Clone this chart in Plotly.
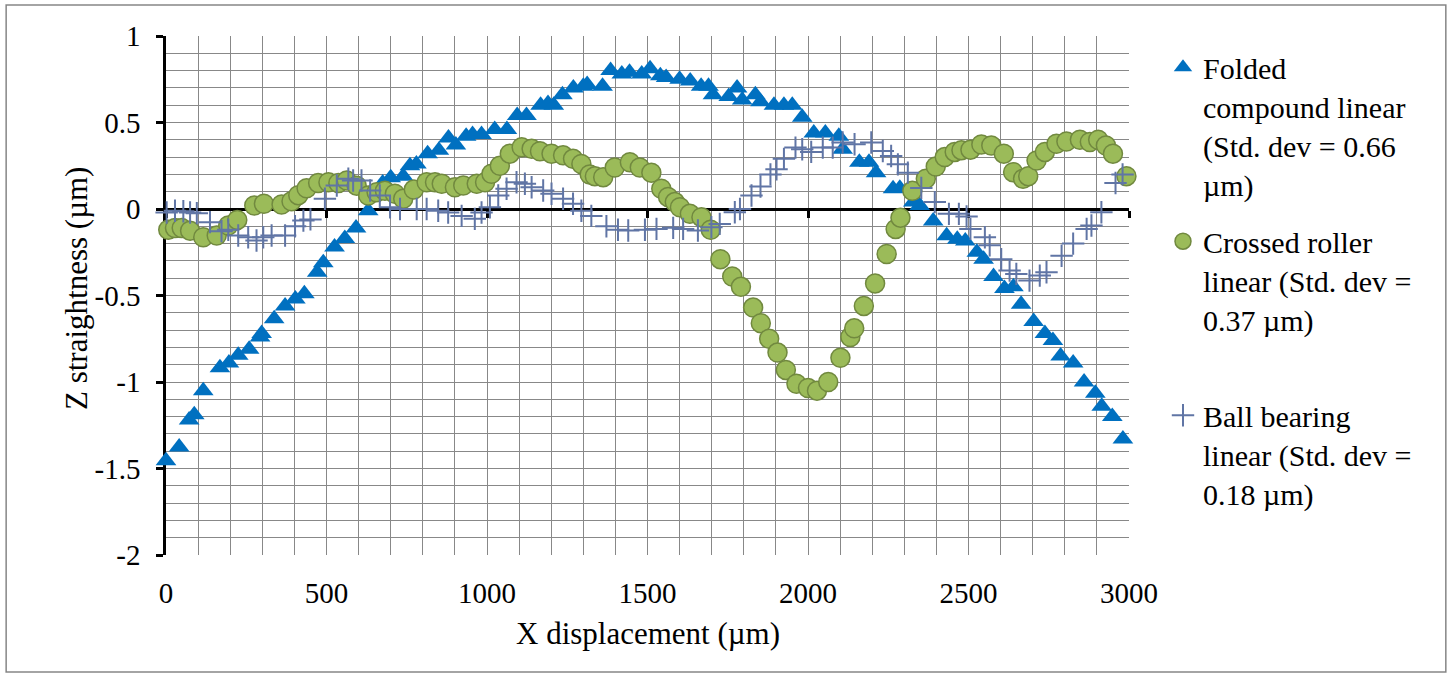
import plotly.graph_objects as go

# ---------------- data ----------------
folded_x = [0, 41, 72, 88, 116, 168, 196, 225, 259, 293, 298, 337, 371, 403, 431, 471, 490, 525, 557, 592,
            630, 675, 700, 739, 760, 780, 815, 850, 880, 903, 935, 955, 983, 1024, 1062, 1094, 1123, 1167, 1190, 1208,
            1235, 1269, 1300, 1312, 1360, 1385, 1420, 1444, 1482, 1508, 1540, 1558, 1600, 1633, 1667, 1690, 1704, 1753,
            1779, 1795, 1836, 1852, 1894, 1925, 1951, 1982, 2018, 2054, 2096, 2108, 2160, 2190, 2212, 2265, 2286, 2328,
            2348, 2390, 2432, 2465, 2490, 2526, 2547, 2578, 2612, 2640, 2664, 2703, 2738, 2763, 2787, 2826, 2860, 2895,
            2915, 2948, 2981]
folded_y = [-1.455, -1.375, -1.22, -1.19, -1.05, -0.917, -0.89, -0.845, -0.81, -0.74, -0.72, -0.635, -0.56, -0.52,
            -0.49, -0.365, -0.31, -0.22, -0.17, -0.11, -0.01, 0.15, 0.18, 0.19, 0.25, 0.26, 0.32, 0.34, 0.41, 0.37,
            0.42, 0.43, 0.43, 0.46, 0.46, 0.54, 0.54, 0.60, 0.61, 0.60, 0.66, 0.70, 0.71, 0.72, 0.71, 0.80, 0.78, 0.79,
            0.78, 0.81, 0.77, 0.76, 0.75, 0.74, 0.71, 0.71, 0.66, 0.65, 0.70, 0.63, 0.66, 0.62, 0.60, 0.60, 0.60, 0.53,
            0.44, 0.44, 0.42, 0.345, 0.27, 0.27, 0.21, 0.117, 0.12, 0.04, 0.02, -0.07, -0.155, -0.175, -0.185, -0.25,
            -0.29, -0.39, -0.46, -0.45, -0.55, -0.65, -0.72, -0.76, -0.85, -0.89, -1.0, -1.065, -1.14, -1.20, -1.33]

crossed_x = [7, 28, 49, 75, 116, 158, 194, 222, 275, 305, 360, 391, 412, 438, 474, 506, 537, 563, 594, 630, 656,
             682, 713, 739, 772, 812, 838, 859, 900, 926, 968, 994, 1014, 1040, 1071, 1108, 1139, 1165, 1201, 1237,
             1268, 1294, 1320, 1336, 1362, 1398, 1445, 1476, 1512, 1543, 1564, 1585, 1601, 1632, 1668, 1697, 1727,
             1764, 1791, 1829, 1853, 1879, 1905, 1931, 1964, 2000, 2028, 2063, 2101, 2132, 2144, 2174, 2209, 2245,
             2273, 2288, 2325, 2367, 2398, 2426, 2457, 2478, 2506, 2540, 2571, 2610, 2639, 2670, 2686, 2712, 2738,
             2774, 2805, 2847, 2878, 2904, 2928, 2950, 2992]
crossed_y = [-0.12, -0.11, -0.11, -0.125, -0.163, -0.153, -0.095, -0.063, 0.02, 0.03, 0.026, 0.045, 0.08, 0.12,
             0.15, 0.155, 0.15, 0.165, 0.135, 0.078, 0.097, 0.105, 0.088, 0.059, 0.112, 0.155, 0.155, 0.146, 0.126,
             0.136, 0.146, 0.155, 0.204, 0.25, 0.32, 0.357, 0.348, 0.334, 0.32, 0.31, 0.29, 0.26, 0.20, 0.19, 0.184,
             0.24, 0.27, 0.24, 0.21, 0.117, 0.07, 0.04, 0.01, -0.028, -0.047, -0.12, -0.29, -0.39, -0.45, -0.57, -0.66,
             -0.75, -0.83, -0.93, -1.01, -1.035, -1.05, -1.0, -0.86, -0.74, -0.69, -0.56, -0.43, -0.26, -0.115, -0.05,
             0.105, 0.175, 0.246, 0.30, 0.33, 0.34, 0.343, 0.373, 0.367, 0.32, 0.213, 0.175, 0.19, 0.28, 0.33, 0.377,
             0.39, 0.40, 0.387, 0.40, 0.367, 0.32, 0.19]

ball_x = [2, 28, 54, 75, 96, 137, 173, 194, 225, 256, 282, 303, 329, 371, 402, 428, 450, 495, 532, 568, 583, 609,
          636, 666, 698, 729, 781, 812, 848, 879, 921, 962, 983, 1009, 1035, 1061, 1092, 1118, 1139, 1175, 1201, 1237,
          1268, 1294, 1325, 1372, 1408, 1440, 1492, 1528, 1580, 1611, 1657, 1699, 1725, 1772, 1788, 1824, 1852, 1883,
          1902, 1925, 1961, 1982, 2010, 2046, 2077, 2108, 2145, 2197, 2233, 2259, 2280, 2311, 2353, 2395, 2439, 2470,
          2494, 2506, 2551, 2566, 2602, 2628, 2649, 2690, 2722, 2743, 2790, 2826, 2868, 2883, 2914, 2958, 2980]
ball_y = [-0.02, -0.01, -0.013, -0.02, -0.024, -0.076, -0.128, -0.12, -0.153, -0.163, -0.182, -0.163, -0.153,
          -0.153, -0.10, -0.067, -0.06, 0.059, 0.136, 0.175, 0.165, 0.165, 0.107, 0.078, 0.01, 0.0, 0.0, 0.0, -0.01,
          -0.02, -0.04, -0.057, -0.02, 0.01, 0.078, 0.117, 0.155, 0.146, 0.126, 0.107, 0.088, 0.059, 0.03, -0.01,
          -0.04, -0.10, -0.12, -0.124, -0.12, -0.115, -0.109, -0.115, -0.124, -0.105, -0.086, -0.019, 0.0, 0.078,
          0.13, 0.20, 0.23, 0.29, 0.355, 0.345, 0.33, 0.355, 0.355, 0.384, 0.374, 0.384, 0.335, 0.306, 0.258, 0.21,
          0.122, 0.04, -0.028, -0.028, -0.043, -0.115, -0.163, -0.21, -0.29, -0.356, -0.375, -0.414, -0.385, -0.366,
          -0.27, -0.2, -0.115, -0.095, -0.019, 0.15, 0.20]

series_names = [
    "Folded<br>compound linear<br>(Std. dev = 0.66<br>µm)",
    "Crossed roller<br>linear (Std. dev =<br>0.37 µm)<br> ",
    "Ball bearing<br>linear (Std. dev =<br>0.18 µm)",
]
y_tick_vals = [1, 0.5, 0, -0.5, -1, -1.5, -2]
y_tick_text = ["1", "0.5", "0", "-0.5", "-1", "-1.5", "-2"]
x_tick_vals = [0, 500, 1000, 1500, 2000, 2500, 3000]
x_tick_text = ["0", "500", "1000", "1500", "2000", "2500", "3000"]
x_title = "X displacement (µm)"
y_title = "Z straightness (µm)"

FONT = "Liberation Serif"
GRID = "#888888"

fig = go.Figure()
fig.add_trace(go.Scatter(
    x=folded_x, y=folded_y, mode="markers", name=series_names[0], legendgroup="a",
    marker=dict(symbol="triangle-up", size=18, color="#0070C0"), cliponaxis=False))
fig.add_trace(go.Scatter(
    x=crossed_x, y=crossed_y, mode="markers", name=series_names[1], legendgroup="b",
    marker=dict(symbol="circle", size=19, color="#9BBB59", line=dict(color="#71893F", width=1.5)),
    cliponaxis=False))
fig.add_trace(go.Scatter(
    x=ball_x, y=ball_y, mode="markers", name=series_names[2], legendgroup="c",
    marker=dict(symbol="cross-thin", size=16, color="#6075A5", line=dict(color="#6075A5", width=2)),
    cliponaxis=False))
# invisible helper trace so the axis drawn along y = 0 exists
fig.add_trace(go.Scatter(x=[None], y=[None], xaxis="x2", yaxis="y", showlegend=False, hoverinfo="skip"))

fig.update_layout(
    width=1452, height=677,
    margin=dict(l=166, r=323, t=36, b=122),
    paper_bgcolor="white", plot_bgcolor="white",
    font=dict(family=FONT, size=29, color="black"),
    showlegend=True,
    legend=dict(x=1.0353, y=0.99, xanchor="left", yanchor="top", valign="top",
                font=dict(family=FONT, size=30, color="black"), tracegroupgap=15,
                itemwidth=30, bgcolor="rgba(0,0,0,0)"),
    xaxis=dict(range=[0, 3000], tickvals=x_tick_vals, ticktext=x_tick_text, showgrid=True, gridcolor=GRID,
               gridwidth=1, zeroline=False, showline=False, ticks="", ticklabelstandoff=18,
               minor=dict(dtick=100, showgrid=True, gridcolor=GRID, gridwidth=1),
               tickfont=dict(family=FONT, size=29)),
    xaxis2=dict(range=[0, 3000], overlaying="x", anchor="free", position=2 / 3, side="bottom",
                tickvals=x_tick_vals, showticklabels=False, showgrid=False, zeroline=False,
                showline=True, linecolor="black", linewidth=2.5, ticks="outside", ticklen=7,
                tickwidth=2.5, tickcolor="black", layer="below traces"),
    yaxis=dict(range=[-2, 1], tickvals=y_tick_vals, ticktext=y_tick_text, showgrid=True, gridcolor=GRID,
               gridwidth=1, zeroline=True, zerolinecolor="black", zerolinewidth=2.5,
               showline=True, linecolor="black", linewidth=2.5, ticks="outside", ticklen=7, tickwidth=2.5,
               tickcolor="black", layer="below traces", ticklabelstandoff=10,
               minor=dict(dtick=0.1, showgrid=True, gridcolor=GRID, gridwidth=1),
               tickfont=dict(family=FONT, size=29)),
    annotations=[
        dict(text=x_title, xref="paper", yref="paper", x=(648 - 166) / 963, y=(555 - 633) / 519,
             xanchor="center", yanchor="middle", showarrow=False, font=dict(family=FONT, size=31)),
        dict(text=y_title, xref="paper", yref="paper", x=(76 - 166) / 963, y=(555 - 289) / 519,
             xanchor="center", yanchor="middle", showarrow=False, textangle=-90,
             font=dict(family=FONT, size=31)),
    ],
    shapes=[dict(type="rect", xref="paper", yref="paper", x0=-0.166, x1=1.329, y0=-0.2254, y1=1.0597,
                 line=dict(color="#868686", width=1.5), fillcolor="rgba(0,0,0,0)", layer="below")],
)

fig.write_html("out.html")
